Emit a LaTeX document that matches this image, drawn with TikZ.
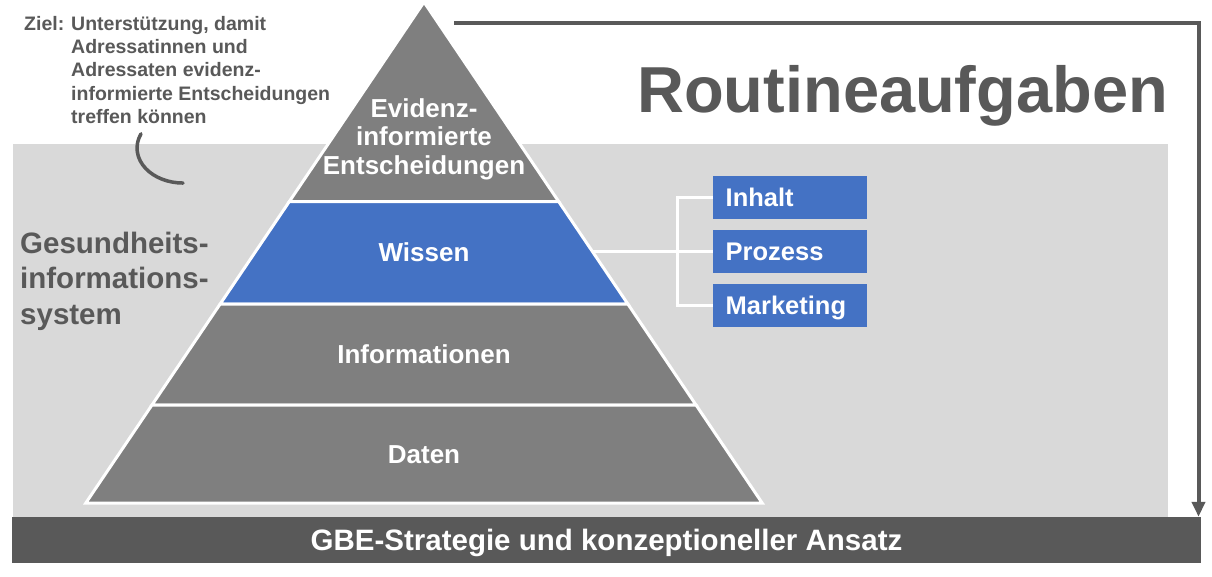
\documentclass[tikz,border=0pt]{standalone}
\usepackage{fontspec}
\setmainfont{Liberation Sans}
\usetikzlibrary{arrows.meta}
\definecolor{pyrgray}{HTML}{7F7F7F}
\definecolor{pyrblue}{HTML}{4472C4}
\definecolor{panelgray}{HTML}{D9D9D9}
\definecolor{darkgray}{HTML}{595959}

\begin{document}
\begin{tikzpicture}[x=1pt,y=1pt,
  layer/.style={draw=white, line width=3pt, line join=miter},
  layertext/.style={text=white, inner sep=0pt,
    font=\fontsize{26}{28.5}\selectfont\bfseries,
    text height=18.6pt, text depth=0pt},
  tagbox/.style={fill=pyrblue, minimum width=154pt, minimum height=43.3pt,
    inner xsep=12.4pt, inner ysep=0pt, text width=129.2pt, align=left,
    text=white, font=\fontsize{25.5}{28.5}\selectfont\bfseries,
    text height=18.3pt, text depth=0pt},
  link/.style={draw=white, line width=3pt, line join=miter},
  flow/.style={draw=darkgray, line width=4pt, line join=miter,
    -{Triangle[width=13pt,length=15pt]}},
  greytext/.style={text=darkgray, inner sep=0pt}
]
% canvas
\useasboundingbox (0,0) rectangle (1212,-576);
\fill[white] (0,0) rectangle (1212,-576);

% light panel behind the pyramid
\fill[panelgray] (12.5,-144) rectangle (1168,-517);

% strategy bar
\node[fill=darkgray, minimum width=1189pt, minimum height=46pt, inner sep=0pt,
      text=white, font=\fontsize{29.5}{34}\selectfont\bfseries,
      text height=21.1pt, text depth=0pt]
  (bar) at (606.5,-540) {GBE-Strategie und konzeptioneller Ansatz};

% pyramid layers
\fill[pyrgray, layer] (424,-2) -- (558.66,-201.5) -- (289.34,-201.5) -- cycle;
\fill[pyrblue, layer] (289.34,-201.5) -- (558.66,-201.5) -- (627.85,-304) -- (220.15,-304) -- cycle;
\fill[pyrgray, layer] (220.15,-304) -- (627.85,-304) -- (696.03,-405) -- (151.97,-405) -- cycle;
\fill[pyrgray, layer] (151.97,-405) -- (696.03,-405) -- (762.18,-503) -- (85.82,-503) -- cycle;

% layer labels
\node[text=white, inner sep=0pt, anchor=base,
      font=\fontsize{26}{28.5}\selectfont\bfseries]
  (evidenz) at (424,-117)
  {\begin{tabular}[t]{@{}c@{}}Evidenz-\\informierte\\Entscheidungen\end{tabular}};
\node[layertext] (wissen) at (424,-252.5) {Wissen};
\node[layertext] (informationen) at (424,-354.5) {Informationen};
\node[layertext] (daten) at (424,-454) {Daten};

% knowledge categories
\node[tagbox] (inhalt) at (790.3,-197.7) {Inhalt};
\node[tagbox] (prozess) at (790.3,-251.7) {Prozess};
\node[tagbox] (marketing) at (790.3,-305.7) {Marketing};

\coordinate (wissenR) at (592.75,-251.7);
\coordinate (fork) at (677,-251.7);
\draw[link] (wissenR) -- (prozess.west);
\draw[link] (inhalt.west) -- (inhalt.west -| fork) -- (marketing.west -| fork) -- (marketing.west);

% headline
\node[greytext, anchor=base west, font=\fontsize{65}{70}\selectfont\bfseries]
  (routine) at (637,-112) {Routineaufgaben};

% feedback arrow from the top down to the strategy bar
\coordinate (arrowstart) at (454,-22.5);
\coordinate (turn) at (1198.5,-22.5);
\draw[flow] (arrowstart) -- (turn) -- (turn |- bar.north);

% goal statement
\node[greytext, anchor=base west, font=\fontsize{19.5}{23.4}\selectfont\bfseries]
  (ziel) at (24,-30) {Ziel:};
\node[greytext, anchor=base west, font=\fontsize{19.5}{23.4}\selectfont\bfseries]
  (zieltext) at (71,-30)
  {\begin{tabular}[t]{@{}l@{}}Unterstützung, damit\\Adressatinnen und\\Adressaten evidenz-\\informierte Entscheidungen\\treffen können\end{tabular}};
\draw[darkgray, line width=3.5pt, line cap=round]
  (141,-133.8) arc[start angle=156, end angle=270, x radius=46, y radius=35];

% system label
\node[greytext, anchor=base west, font=\fontsize{29.5}{35.5}\selectfont\bfseries]
  (system) at (20,-253)
  {\begin{tabular}[t]{@{}l@{}}Gesundheits-\\informations-\\system\end{tabular}};
\end{tikzpicture}
\end{document}
